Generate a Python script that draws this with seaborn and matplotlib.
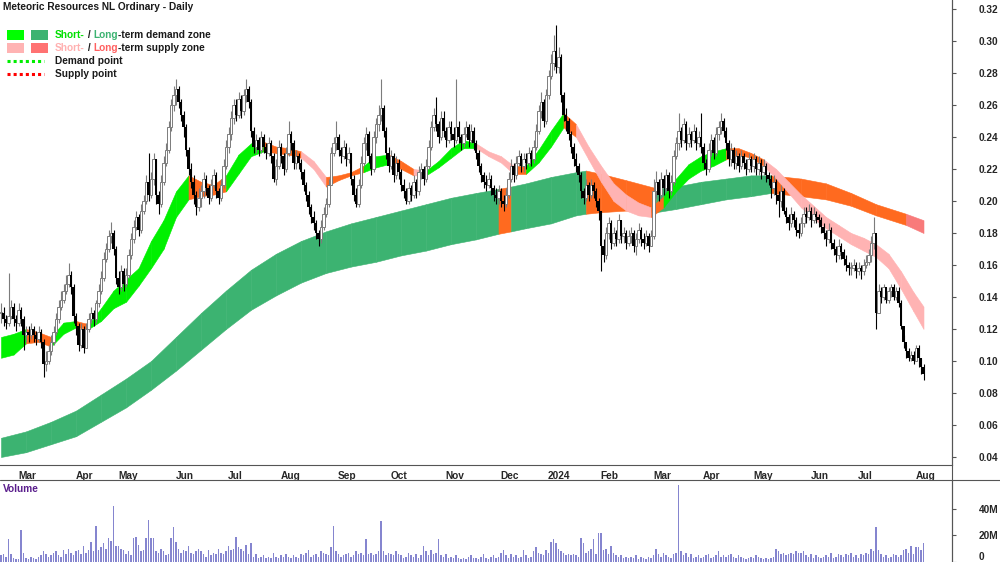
import numpy as np
import pandas as pd
import matplotlib
matplotlib.use('Agg')
import matplotlib.pyplot as plt
from matplotlib.patches import Rectangle
from matplotlib.lines import Line2D
from matplotlib.transforms import ScaledTranslation
import seaborn as sns

sns.set_theme(style='white')
plt.rcParams['font.family'] = ['Liberation Sans', 'DejaVu Sans']

# trading calendar (ASX)
first_day = '2023-02-21'
last_day = '2024-08-07'
asx_holidays = ['2023-04-07', '2023-04-10', '2023-04-25', '2023-06-12', '2023-12-25',
                '2023-12-26', '2024-01-01', '2024-01-26', '2024-03-29', '2024-04-01',
                '2024-04-25', '2024-06-10']

# daily prices, in cents
close_c = [
    13.0, 12.6, 12.4, 12.8, 13.4, 12.6, 12.4, 13.2, 12.6, 11.6,
    11.8, 11.6, 12.0, 11.6, 11.4, 11.8, 11.2, 9.8, 10.0, 10.6,
    11.2, 11.8, 12.6, 13.4, 13.8, 14.4, 14.8, 15.4, 14.6, 12.8,
    12.2, 11.0, 12.0, 10.8, 12.0, 12.6, 13.0, 12.6, 13.6, 14.4,
    15.2, 16.4, 17.0, 17.8, 18.0, 17.0, 15.2, 14.6, 15.6, 14.8,
    15.4, 16.6, 17.6, 18.4, 19.0, 18.2, 19.4, 20.0, 21.2, 20.4,
    21.4, 22.6, 20.4, 19.8, 21.2, 22.4, 23.2, 24.6, 26.0, 26.6,
    27.0, 26.2, 25.4, 24.6, 23.2, 22.0, 21.2, 20.4, 19.6, 20.2,
    20.6, 21.4, 20.8, 20.2, 21.0, 21.6, 20.6, 20.2, 21.0, 22.2,
    23.4, 24.2, 25.2, 26.0, 25.4, 26.4, 25.6, 26.6, 27.0, 26.2,
    24.4, 23.4, 23.8, 23.2, 24.0, 23.4, 23.0, 23.6, 22.8, 21.4,
    22.2, 23.4, 22.8, 22.0, 23.0, 24.2, 23.6, 22.4, 22.8, 22.4,
    21.8, 21.0, 20.4, 19.6, 19.0, 18.6, 18.0, 17.6, 18.4, 19.2,
    19.8, 21.0, 23.0, 23.6, 24.0, 23.2, 22.8, 23.4, 22.6, 23.0,
    21.4, 20.4, 19.8, 21.0, 22.4, 23.6, 24.2, 22.8, 22.0, 24.0,
    24.8, 25.4, 25.8, 24.4, 23.0, 22.2, 22.8, 21.6, 22.4, 21.8,
    21.0, 20.6, 20.0, 20.8, 20.4, 21.2, 20.6, 21.8, 22.0, 21.4,
    22.2, 23.4, 24.6, 25.4, 24.8, 24.0, 25.2, 24.4, 23.8, 24.6,
    24.2, 23.8, 24.6, 24.0, 23.6, 24.2, 24.6, 23.8, 24.4, 23.6,
    23.0, 22.2, 21.6, 21.2, 21.0, 21.4, 20.8, 20.4, 20.2, 20.6,
    20.0, 19.8, 20.4, 21.4, 22.2, 21.6, 22.4, 22.8, 22.2, 22.6,
    22.4, 23.0, 22.6, 23.4, 24.4, 25.6, 26.2, 25.0, 26.6, 27.8,
    28.6, 29.4, 28.4, 29.0, 26.6, 25.4, 25.0, 24.2, 23.4, 22.6,
    22.2, 21.6, 20.6, 20.2, 21.0, 20.4, 21.0, 20.6, 20.0, 19.4,
    17.2, 16.6, 18.0, 18.6, 17.4, 18.0, 17.6, 18.8, 17.8, 18.0,
    17.4, 17.8, 18.0, 17.2, 17.6, 18.2, 17.6, 17.4, 17.8, 17.2,
    17.8, 20.6, 21.2, 20.4, 21.4, 20.8, 21.6, 20.6, 21.2, 22.8,
    23.6, 24.4, 23.8, 24.8, 23.6, 24.2, 23.8, 24.4, 23.6, 24.0,
    23.4, 22.4, 22.0, 23.2, 23.8, 23.0, 24.2, 24.6, 25.0, 24.4,
    23.6, 22.6, 23.2, 22.4, 22.8, 22.2, 22.8, 22.4, 22.0, 22.6,
    22.2, 22.6, 22.0, 22.4, 21.8, 22.2, 21.6, 21.4, 20.8, 21.2,
    20.4, 20.0, 20.6, 19.4, 19.0, 18.6, 19.2, 18.8, 18.2, 18.0,
    18.6, 19.2, 19.0, 19.4, 18.8, 19.2, 19.0, 18.8, 18.4, 18.0,
    17.6, 18.2, 17.4, 17.0, 16.6, 17.2, 16.8, 16.4, 16.0, 15.8,
    15.8, 16.0, 15.6, 15.8, 15.6, 16.0, 16.2, 16.6, 17.4, 18.0,
    13.0, 14.4, 14.0, 14.6, 13.8, 14.4, 14.6, 14.0, 14.4, 13.6,
    12.2, 11.2, 10.6, 10.2, 10.4, 10.0, 10.8, 10.2, 9.6, 9.2,
]
high_c = [
    13.6, 13.4, 12.9, 15.5, 13.8, 13.6, 12.9, 13.6, 13.4, 12.8,
    12.2, 12.2, 12.4, 12.2, 11.9, 12.2, 12.0, 11.4, 10.6, 11.0,
    11.6, 12.2, 13.0, 13.8, 14.4, 14.8, 15.4, 16.1, 15.6, 14.8,
    13.0, 12.4, 12.4, 12.2, 12.4, 13.0, 13.4, 13.2, 13.8, 14.8,
    15.6, 16.8, 17.4, 18.2, 18.7, 18.2, 17.2, 15.6, 16.0, 15.8,
    15.8, 17.0, 18.0, 18.8, 19.4, 19.2, 19.8, 20.4, 21.6, 23.0,
    21.8, 23.0, 22.6, 20.6, 21.6, 22.8, 23.6, 25.0, 26.4, 27.2,
    27.6, 27.2, 26.4, 25.6, 24.8, 23.4, 22.4, 21.6, 20.6, 20.8,
    21.0, 21.8, 21.6, 21.0, 21.4, 22.0, 21.8, 20.8, 21.4, 22.6,
    23.8, 24.6, 25.6, 26.4, 26.4, 26.8, 26.6, 27.0, 27.6, 27.2,
    26.4, 24.6, 24.2, 24.0, 24.4, 24.2, 23.6, 24.0, 23.8, 23.0,
    22.6, 23.8, 23.6, 23.0, 23.4, 25.0, 24.4, 23.8, 23.2, 23.0,
    22.6, 22.0, 21.2, 20.6, 19.8, 19.4, 18.8, 18.2, 18.8, 19.6,
    20.2, 21.4, 23.4, 24.0, 25.0, 24.2, 23.4, 23.8, 23.6, 23.4,
    23.0, 21.6, 20.8, 21.4, 22.8, 24.0, 24.6, 24.4, 23.0, 24.4,
    25.2, 26.0, 27.6, 26.0, 24.6, 23.4, 23.2, 23.0, 22.8, 22.6,
    22.0, 21.4, 20.8, 21.2, 21.0, 21.6, 21.4, 22.2, 22.4, 22.2,
    22.6, 23.8, 25.0, 25.8, 26.5, 25.0, 25.6, 25.6, 24.6, 25.0,
    25.0, 24.6, 27.6, 25.0, 24.2, 24.6, 25.0, 24.8, 24.8, 24.6,
    23.8, 23.2, 22.4, 21.8, 21.6, 21.8, 21.6, 21.0, 20.8, 21.0,
    20.8, 20.4, 20.8, 21.8, 22.6, 22.4, 22.8, 23.2, 23.0, 23.0,
    23.0, 23.4, 23.2, 23.8, 24.8, 26.0, 26.8, 26.4, 27.0, 28.2,
    29.2, 30.4, 31.0, 29.6, 29.2, 26.8, 25.8, 25.2, 24.4, 23.6,
    23.0, 22.4, 21.8, 20.8, 21.4, 21.2, 21.4, 21.2, 20.8, 20.2,
    19.4, 17.6, 18.4, 19.0, 18.8, 18.4, 18.2, 19.2, 18.8, 18.4,
    18.2, 18.2, 18.4, 18.2, 18.0, 18.6, 18.4, 18.0, 18.2, 18.0,
    18.2, 21.4, 21.9, 21.4, 21.8, 21.6, 22.0, 21.8, 21.6, 23.2,
    24.0, 25.5, 24.6, 25.2, 25.0, 24.6, 24.4, 24.8, 24.6, 24.4,
    25.5, 23.6, 22.6, 23.6, 24.2, 24.0, 24.6, 25.0, 25.5, 25.2,
    24.6, 23.8, 23.6, 23.4, 23.2, 23.0, 23.2, 23.0, 22.6, 23.0,
    22.8, 23.0, 22.8, 22.8, 22.6, 22.6, 22.4, 21.8, 21.6, 21.6,
    21.4, 20.6, 21.0, 20.8, 19.6, 19.2, 19.6, 19.4, 19.0, 18.6,
    19.0, 19.6, 19.6, 19.8, 19.6, 19.6, 19.4, 19.2, 19.0, 18.6,
    18.2, 18.6, 18.4, 17.6, 17.2, 17.6, 17.4, 17.0, 16.6, 16.2,
    16.2, 16.4, 16.2, 16.2, 16.0, 16.4, 16.6, 17.0, 17.8, 19.0,
    17.8, 14.8, 14.6, 14.8, 14.6, 14.6, 14.8, 14.8, 14.6, 14.6,
    13.8, 11.6, 11.0, 10.8, 10.6, 10.6, 11.0, 11.0, 10.2, 9.8,
]
low_c = [
    12.4, 12.2, 12.0, 12.2, 12.6, 12.2, 11.9, 12.2, 12.2, 10.7,
    11.2, 11.2, 11.4, 11.2, 11.0, 11.2, 10.8, 9.0, 9.4, 9.8,
    10.4, 11.0, 11.6, 12.4, 13.2, 13.6, 14.2, 14.6, 14.2, 12.4,
    11.6, 10.6, 10.8, 10.5, 10.8, 11.8, 12.4, 12.2, 12.4, 13.4,
    14.2, 15.0, 16.2, 16.8, 17.4, 16.6, 14.8, 14.2, 14.4, 14.4,
    14.6, 15.2, 16.4, 17.4, 18.2, 17.8, 18.0, 19.2, 19.8, 20.0,
    20.2, 21.0, 19.8, 19.2, 19.6, 21.0, 22.2, 23.0, 24.4, 25.6,
    26.0, 25.8, 25.0, 24.0, 22.8, 21.6, 20.8, 19.8, 19.1, 19.4,
    19.6, 20.2, 20.4, 19.8, 20.0, 20.8, 20.2, 19.8, 20.0, 20.8,
    22.0, 23.0, 23.8, 24.8, 25.0, 25.2, 25.2, 25.4, 26.2, 25.8,
    24.0, 23.0, 23.0, 22.8, 23.0, 23.0, 22.6, 22.8, 22.4, 21.2,
    21.0, 22.0, 22.4, 21.6, 21.8, 22.8, 23.2, 22.0, 22.0, 22.0,
    21.4, 20.6, 20.0, 19.2, 18.6, 18.2, 17.6, 17.2, 17.4, 18.2,
    19.0, 19.6, 21.0, 22.8, 23.2, 22.8, 22.4, 22.6, 22.2, 22.4,
    21.0, 20.0, 19.6, 19.6, 20.8, 22.2, 23.2, 22.4, 21.6, 21.8,
    23.6, 24.4, 25.0, 24.0, 22.6, 21.8, 22.0, 21.2, 21.4, 21.4,
    20.6, 20.2, 19.8, 19.8, 20.0, 20.2, 20.2, 20.4, 21.4, 21.0,
    21.2, 22.0, 23.2, 24.4, 24.4, 23.6, 23.8, 24.0, 23.4, 23.6,
    23.8, 23.4, 23.6, 23.6, 23.2, 23.4, 24.0, 23.4, 23.6, 23.2,
    22.6, 21.8, 21.2, 20.8, 20.6, 20.8, 20.4, 20.0, 19.8, 19.8,
    19.6, 19.4, 19.6, 20.2, 21.2, 21.2, 21.4, 22.2, 21.8, 21.8,
    22.0, 22.2, 22.2, 22.4, 23.2, 24.2, 25.2, 24.6, 24.8, 26.4,
    27.6, 28.2, 28.0, 28.0, 26.2, 25.0, 24.4, 23.8, 23.0, 22.2,
    21.8, 21.2, 20.2, 19.8, 20.0, 20.0, 20.2, 20.2, 19.6, 18.8,
    15.6, 16.2, 16.4, 17.6, 17.0, 17.2, 17.2, 17.4, 17.4, 17.4,
    17.0, 17.2, 17.4, 16.8, 16.6, 17.4, 17.2, 17.0, 17.2, 16.8,
    17.2, 17.6, 20.2, 20.0, 20.2, 20.4, 20.6, 20.2, 20.4, 21.0,
    22.6, 23.2, 23.4, 23.6, 23.2, 23.4, 23.4, 23.6, 23.2, 23.4,
    23.0, 22.0, 21.6, 21.8, 22.8, 22.6, 22.8, 23.8, 24.2, 24.0,
    23.2, 22.2, 22.2, 22.0, 22.0, 21.8, 22.0, 22.0, 21.6, 21.8,
    21.8, 21.8, 21.6, 21.6, 21.4, 21.6, 21.2, 21.0, 20.2, 20.4,
    19.8, 19.0, 19.6, 19.2, 18.6, 18.2, 18.4, 18.4, 17.8, 17.7,
    17.8, 18.4, 18.6, 18.8, 18.4, 18.6, 18.6, 18.4, 18.0, 17.6,
    17.2, 17.4, 17.0, 16.6, 16.2, 16.4, 16.4, 16.0, 15.6, 15.4,
    15.4, 15.6, 15.2, 15.4, 15.1, 15.4, 15.8, 16.0, 16.2, 17.0,
    12.0, 13.0, 13.6, 13.8, 13.6, 13.6, 14.0, 13.8, 13.8, 13.4,
    12.0, 10.8, 10.2, 10.0, 10.0, 9.8, 10.0, 9.6, 9.2, 8.8,
]
# daily volume, millions of shares
volume_m = [
    5, 6, 4, 17, 6, 3, 2, 2, 24, 7,
    3, 2, 4, 3, 2, 4, 5, 8, 6, 4,
    5, 7, 8, 5, 4, 9, 6, 10, 7, 5,
    8, 9, 6, 12, 7, 9, 15, 8, 27, 9,
    11, 14, 10, 18, 16, 42, 12, 12, 10, 9,
    6, 8, 5, 18, 19, 13, 8, 9, 18, 32,
    18, 18, 8, 7, 10, 8, 5, 6, 18, 26,
    15, 10, 7, 9, 8, 12, 7, 6, 8, 10,
    8, 6, 4, 9, 5, 7, 6, 10, 7, 6,
    8, 12, 9, 10, 19, 11, 10, 8, 13, 6,
    14, 4, 6, 3, 4, 5, 3, 4, 3, 7,
    4, 3, 5, 4, 6, 4, 3, 5, 4, 3,
    6, 5, 7, 9, 4, 5, 6, 4, 8, 7,
    6, 5, 11, 27, 8, 6, 4, 5, 6, 7,
    4, 5, 8, 6, 7, 5, 17, 6, 7, 5,
    6, 8, 31, 8, 5, 7, 6, 5, 8, 6,
    5, 3, 4, 7, 5, 4, 6, 3, 5, 12,
    8, 5, 9, 6, 7, 17, 5, 4, 6, 3,
    4, 3, 5, 3, 2, 3, 2, 4, 5, 3,
    3, 2, 4, 6, 3, 2, 4, 5, 3, 4,
    7, 9, 5, 3, 6, 4, 5, 3, 4, 9,
    5, 3, 4, 8, 11, 7, 6, 5, 9, 7,
    15, 17, 14, 10, 8, 7, 5, 6, 5, 6,
    5, 4, 18, 14, 7, 8, 10, 17, 6, 22,
    22, 9, 10, 6, 12, 7, 5, 4, 5, 3,
    4, 3, 4, 3, 5, 2, 4, 3, 2, 4,
    3, 5, 10, 6, 4, 7, 5, 4, 3, 6,
    7, 58, 8, 5, 7, 4, 6, 3, 4, 5,
    3, 4, 5, 6, 3, 4, 5, 8, 4, 5,
    4, 5, 6, 4, 3, 5, 4, 3, 2, 3,
    4, 3, 5, 4, 3, 2, 3, 2, 3, 4,
    10, 8, 6, 7, 5, 6, 7, 6, 8, 7,
    7, 8, 5, 4, 6, 3, 5, 4, 3, 4,
    5, 4, 7, 3, 4, 6, 5, 4, 6, 5,
    7, 4, 5, 3, 6, 5, 7, 6, 10, 8,
    26, 9, 6, 4, 5, 3, 4, 6, 5, 4,
    5, 9, 10, 7, 12, 6, 11, 11, 9, 14,
]

# short-term zone, read every 5th trading day (cents)
short_hi = [11.5, 11.7, 12.0, 11.8, 11.5, 12.4, 12.5, 12.3, 13.3, 14.4,
            15.1, 15.8, 17.5, 18.8, 20.6, 21.6, 21.2, 21.0, 21.6, 22.9,
            23.6, 23.7, 23.4, 23.3, 23.1, 22.5, 21.5, 21.6, 21.8, 22.2,
            22.8, 22.9, 22.5, 22.0, 21.9, 22.5, 23.3, 23.8, 23.6, 23.1,
            22.8, 22.2, 22.2, 23.2, 24.4, 25.5, 24.8, 23.4, 22.2, 21.1,
            20.4, 19.9, 19.6, 20.3, 21.4, 22.3, 22.8, 23.1, 23.3, 23.3,
            23.0, 22.6, 22.0, 21.2, 20.4, 19.7, 19.0, 18.5, 18.0, 17.7,
            17.3, 16.7, 15.6, 14.3, 13.4]
short_lo = [10.2, 10.4, 11.1, 11.2, 10.9, 11.7, 12.1, 12.0, 12.5, 13.3,
            13.7, 14.7, 15.8, 17.0, 19.0, 20.1, 20.3, 20.4, 20.6, 21.7,
            22.8, 23.1, 23.0, 22.9, 22.7, 22.0, 20.9, 21.3, 21.6, 21.8,
            22.1, 22.3, 22.0, 21.6, 21.6, 22.1, 22.7, 23.3, 23.3, 22.8,
            22.4, 21.7, 21.7, 22.4, 23.4, 24.6, 24.0, 22.6, 21.2, 20.0,
            19.4, 19.1, 19.0, 19.6, 20.6, 21.4, 21.9, 22.2, 22.6, 22.9,
            22.7, 22.2, 21.4, 20.5, 19.6, 18.9, 18.3, 17.8, 17.3, 16.9,
            16.5, 15.8, 14.5, 13.1, 12.0]
# g = demand, p = supply, o = turning
short_state = ('ggooggoggg' 'gggggooogg' 'goooppooog' 'goopggggpp'
               'pogggopppp' 'ppogggggoo' 'oppppppppp' 'pppp')

# long-term zone (cents) at these trading-day numbers
long_day = [0, 10, 20, 30, 40, 50, 60, 70, 80, 90, 100, 110, 120, 130, 140, 150,
            160, 170, 180, 190, 199, 204, 210, 220, 230, 234, 240, 250, 262, 270,
            280, 290, 300, 308, 320, 330, 340, 350, 362, 369]
long_hi = [5.2, 5.6, 6.2, 6.9, 7.9, 8.9, 10.0, 11.5, 13.0, 14.4, 15.7, 16.7, 17.5,
           18.1, 18.6, 19.0, 19.4, 19.8, 20.2, 20.5, 20.75, 20.9, 21.1, 21.5, 21.8,
           21.9, 21.7, 21.3, 20.8, 20.9, 21.2, 21.4, 21.6, 21.6, 21.4, 21.1, 20.5,
           19.8, 19.2, 18.8]
long_lo = [4.0, 4.3, 4.8, 5.3, 6.2, 7.1, 8.2, 9.4, 10.7, 12.0, 13.2, 14.1, 14.9,
           15.5, 15.9, 16.2, 16.6, 16.9, 17.3, 17.6, 17.95, 18.1, 18.3, 18.6, 19.1,
           19.2, 19.3, 19.4, 19.3, 19.5, 19.8, 20.1, 20.3, 20.5, 20.3, 20.1, 19.7,
           19.1, 18.5, 18.0]
long_state = 'DDDDDDDDDDDDDDDDDDDDSDDDDSSSDDDDDSSSSSR'

month_names = ['Jan', 'Feb', 'Mar', 'Apr', 'May', 'Jun', 'Jul', 'Aug', 'Sep', 'Oct', 'Nov', 'Dec']

zone_colors = {'g': '#00f000', 'p': '#ffb3b3', 'o': '#ff6a1f',
               'D': '#3cb371', 'S': '#ff6a1f', 'R': '#f87a7a'}

# ---- calendar
trade_days = pd.bdate_range(first_day, last_day)
trade_days = trade_days[~trade_days.isin(pd.to_datetime(asx_holidays))]
n = len(trade_days)
assert n == len(close_c) == len(high_c) == len(low_c) == len(volume_m)
day = np.arange(n)

close = np.array(close_c) / 100
high = np.array(high_c) / 100
low = np.array(low_c) / 100
vol = np.array(volume_m) * 1e6
prev_close = np.r_[close[0], close[:-1]]   # candle body drawn from the previous close
up = close >= prev_close

fig = plt.figure(figsize=(10, 5.62), dpi=100)
ax = fig.add_axes([0, 1 - 465 / 562, 0.952, 465 / 562])
axv = fig.add_axes([0, 0, 0.952, 81 / 562])

# ---- zones
def draw_zone(x, hi, lo, state):
    for k, s in enumerate(state):
        c = zone_colors[s]
        ax.fill_between(x[k:k + 2], np.array(lo[k:k + 2]) / 100, np.array(hi[k:k + 2]) / 100,
                        color=c, ec=c, lw=0.4, zorder=1)

draw_zone(np.array(long_day), long_hi, long_lo, long_state)
short_day = np.r_[np.arange(0, n, 5), n - 1]
draw_zone(short_day, short_hi, short_lo, short_state)

# ---- candles
grey = '#7c7c7c'
ax.vlines(day, low, high, colors=np.where(up, grey, 'black'), lw=0.8, zorder=3)
body_lo = np.minimum(prev_close, close)
body_h = np.maximum(np.abs(close - prev_close), 0.0008)
ax.bar(day[up], body_h[up], bottom=body_lo[up], width=0.9,
       facecolor='white', edgecolor=grey, lw=0.7, zorder=4)
ax.bar(day[~up], body_h[~up], bottom=body_lo[~up], width=0.9,
       color='black', lw=0, zorder=4)

# ---- volume
sns.barplot(x=day, y=vol, native_scale=True, width=0.6, color='#8585cf',
            saturation=1, errorbar=None, linewidth=0, ax=axv)

# ---- axes styling
for a in (ax, axv):
    a.set_xlim(-0.4, 380.4)
    a.set_facecolor('white')
    for s in ('left', 'top'):
        a.spines[s].set_visible(False)
    a.spines['right'].set_color('#555555')
    a.spines['right'].set_linewidth(0.8)
    a.yaxis.tick_right()
    a.tick_params(axis='y', length=3, width=0.8, color='#555555', pad=16, labelsize=7.3)
    a.set_xlabel('')
    a.set_ylabel('')
    a.grid(False)

ax.set_ylim(0.035, 0.3256)
yt = np.arange(4, 33, 2) / 100
ax.set_yticks(yt, [f'{v:.2f}' for v in yt])
ax.spines['bottom'].set_color('#555555')
ax.spines['bottom'].set_linewidth(0.8)

month_first = np.flatnonzero(np.r_[False, trade_days.month[1:] != trade_days.month[:-1]])
month_lab = [str(trade_days[i].year) if trade_days[i].month == 1 else month_names[trade_days[i].month - 1]
             for i in month_first]
ax.set_xticks(month_first, month_lab)
ax.tick_params(axis='x', length=3, width=0.8, color='#555555', pad=1, labelsize=7.3)
shift = ScaledTranslation(1.5 / 72, 0, fig.dpi_scale_trans)
for lbl in ax.get_xticklabels():
    lbl.set_ha('left')
    lbl.set_fontweight('bold')
    lbl.set_transform(lbl.get_transform() + shift)
for lbl in ax.get_yticklabels():
    lbl.set_fontweight('bold')

axv.set_ylim(0, 61e6)
axv.set_yticks([0, 20e6, 40e6], ['0', '20M', '40M'])
axv.spines['bottom'].set_visible(False)
axv.set_xticks([])
vlabels = axv.get_yticklabels()
for lbl in vlabels:
    lbl.set_fontweight('bold')
# keep the zero label inside the picture
vlabels[0].set_va('bottom')

# frame lines spanning the whole figure
fig.add_artist(Line2D([0, 1], [1 - 480 / 562] * 2, color='#555555', lw=0.8))
fig.add_artist(Line2D([0.952, 0.952], [0, 1], color='#555555', lw=0.8))

# ---- title and legend
def fx(px):
    return px / 1000

def fy(py):
    return 1 - py / 562

txt = dict(fontsize=7.3, fontweight='bold', va='center', ha='left')
fig.text(fx(3), fy(7), 'Meteoric Resources NL Ordinary - Daily', color='#1a1a1a', **txt)
fig.text(fx(3), fy(489), 'Volume', color='#5a1e8c', **txt)

for (x0, y0, c) in [(7, 30, '#00ff00'), (31, 30, '#3cb371'),
                    (7, 43, '#ffb3b3'), (31, 43, '#ff7272')]:
    fig.add_artist(Rectangle((fx(x0), fy(y0 + 10)), 17 / 1000, 10 / 562,
                             transform=fig.transFigure, color=c, lw=0))
fig.add_artist(Line2D([fx(7), fx(44)], [fy(61)] * 2, color='#00ee00', lw=2.2, ls=(0, (1, 1))))
fig.add_artist(Line2D([fx(7), fx(44)], [fy(74)] * 2, color='#ff0000', lw=2.2, ls=(0, (1, 1))))

renderer = fig.canvas.get_renderer()

def chain(px, py, parts):
    x = fx(px)
    for s, c in parts:
        t = fig.text(x, fy(py), s, color=c, **txt)
        x = t.get_window_extent(renderer).x1 / fig.bbox.width

chain(55, 35, [('Short-', '#00e000'), (' / ', '#1a1a1a'), ('Long', '#3cb371'),
               ('-term demand zone', '#1a1a1a')])
chain(55, 48, [('Short-', '#ffb0b0'), (' / ', '#1a1a1a'), ('Long', '#ff6060'),
               ('-term supply zone', '#1a1a1a')])
chain(55, 61, [('Demand point', '#1a1a1a')])
chain(55, 74, [('Supply point', '#1a1a1a')])

fig.savefig('out.png', dpi=100)
